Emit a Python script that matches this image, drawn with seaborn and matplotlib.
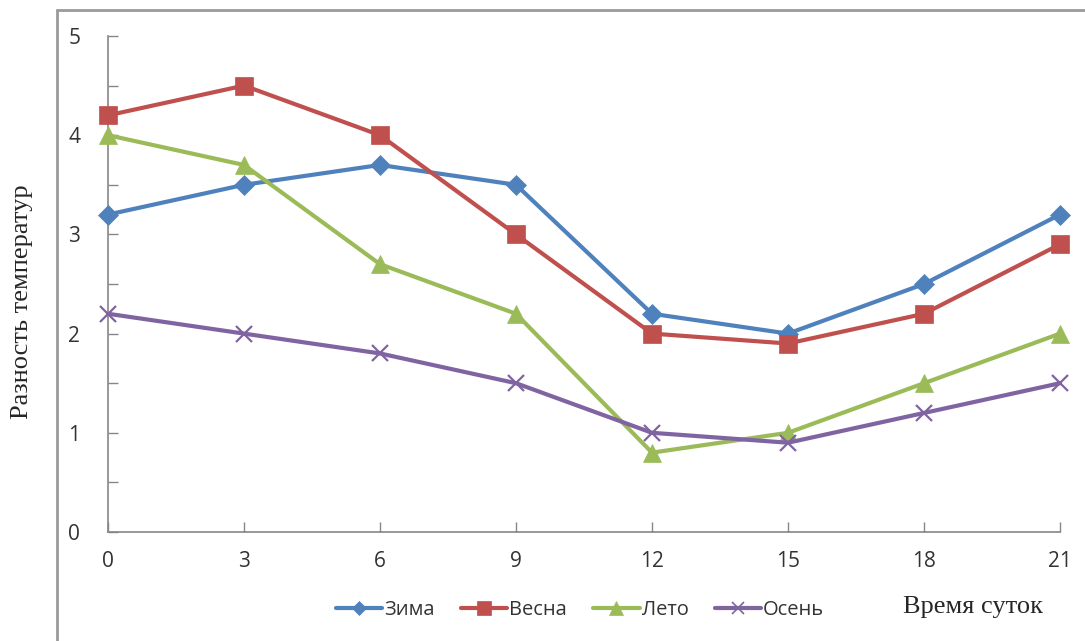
import matplotlib
matplotlib.use('Agg')
import matplotlib.pyplot as plt
from matplotlib.lines import Line2D
import numpy as np
import pandas as pd
import seaborn as sns

# -------------------------------------------------------------
# Data
# -------------------------------------------------------------
hours = [0, 3, 6, 9, 12, 15, 18, 21]
zima = [3.2, 3.5, 3.7, 3.5, 2.2, 2.0, 2.5, 3.2]
vesna = [4.2, 4.5, 4.0, 3.0, 2.0, 1.9, 2.2, 2.9]
leto = [4.0, 3.7, 2.7, 2.2, 0.8, 1.0, 1.5, 2.0]
osen = [2.2, 2.0, 1.8, 1.5, 1.0, 0.9, 1.2, 1.5]
season_names = ["Зима", "Весна", "Лето", "Осень"]

colors = ["#4F81BD", "#C0504D", "#9BBB59", "#8064A2"]
markers = ["D", "s", "^", "x"]
msizes = [10, 13, 13, 12]

df = pd.DataFrame({
    "hour": hours * 4,
    "value": zima + vesna + leto + osen,
    "season": np.repeat(season_names, len(hours)),
})

sns.set_theme(style="white")
plt.rcParams['font.family'] = ['Open Sans', 'DejaVu Sans']

fig = plt.figure(figsize=(10.85, 6.41), dpi=100)
ax = fig.add_axes([108 / 1085, 1 - 532 / 641, (1060 - 108) / 1085, (532 - 36) / 641])

for name, c, m, ms in zip(season_names, colors, markers, msizes):
    sub = df[df["season"] == name]
    sns.lineplot(data=sub, x="hour", y="value", ax=ax, color=c, lw=3,
                 marker=m, markersize=ms, markeredgecolor=c,
                 markeredgewidth=1.6 if m == "x" else 0.5,
                 label=name, legend=False, clip_on=False, zorder=3)

ax.set_xlim(0, 21)
ax.set_ylim(0, 5)
ax.set_xticks(hours)
yt = np.arange(0, 5.01, 0.5)
ax.set_yticks(yt)
ax.set_yticklabels([str(int(v)) if v == int(v) else "" for v in yt])
ax.tick_params(axis='both', direction='in', length=7, width=1, color="#868686",
               labelsize=15, labelcolor="#333333", left=True, bottom=True)
ax.tick_params(axis='y', pad=20)
ax.tick_params(axis='x', pad=14)
ax.set_xlabel("")
ax.set_ylabel("")
for s in ["top", "right"]:
    ax.spines[s].set_visible(False)
for s in ["left", "bottom"]:
    ax.spines[s].set_color("#868686")
    ax.spines[s].set_linewidth(1.2)

# legend
handles = [Line2D([0], [0], color=c, lw=3, marker=m, markersize=ms * 0.75,
                  markeredgecolor=c, markeredgewidth=1.2 if m == "x" else 0.5)
           for c, m, ms in zip(colors, markers, msizes)]
fig.legend(handles, season_names, loc="center", bbox_to_anchor=(580 / 1085, 1 - 610 / 641),
           ncol=4, frameon=False, fontsize=14.5, handlelength=2.3, handletextpad=0.1,
           columnspacing=1.3, labelcolor="#333333")

# axis titles in serif
fig.text(22 / 1085, 1 - 302 / 641, "Разность температур", rotation=90, ha="center", va="center",
         fontsize=19, family=['Liberation Serif', 'DejaVu Serif'])
fig.text(973 / 1085, 1 - 607 / 641, "Время суток", ha="center", va="center",
         fontsize=19, family=['Liberation Serif', 'DejaVu Serif'])

# outer chart frame (cropped at right and bottom)
fig.add_artist(Line2D([57 / 1085, 57 / 1085], [0, 1 - 10 / 641], transform=fig.transFigure,
                      color="#9a9a9a", lw=2))
fig.add_artist(Line2D([57 / 1085, 1], [1 - 10 / 641, 1 - 10 / 641], transform=fig.transFigure,
                      color="#9a9a9a", lw=2))

fig.savefig("out.png", dpi=100)
